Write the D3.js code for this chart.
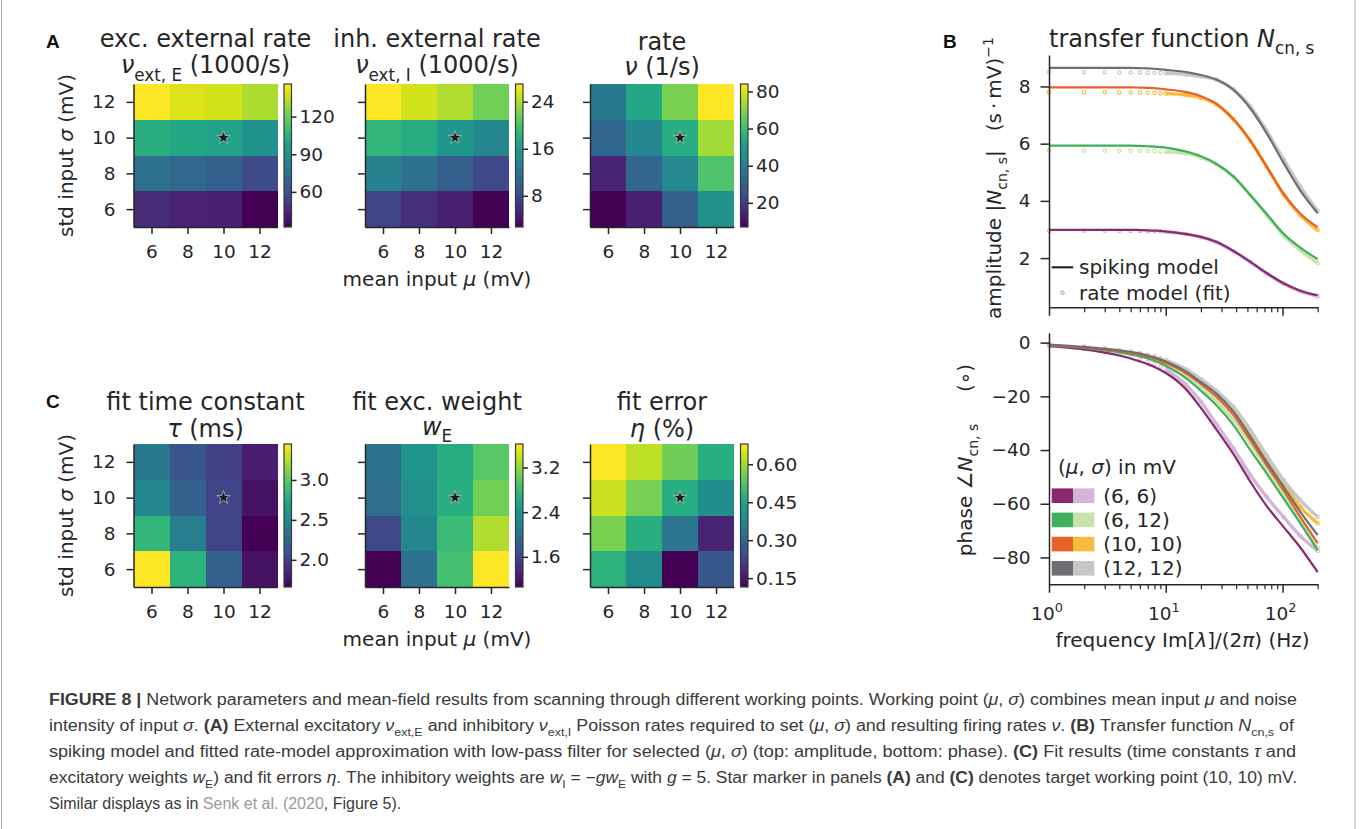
<!DOCTYPE html>
<html>
<head>
<meta charset="utf-8">
<script src="https://cdn.jsdelivr.net/npm/d3@7"></script>
<style>
body { margin: 0; background: #fff; }
svg { display: block; }
text { font-family: "DejaVu Sans", sans-serif; fill: #262626; white-space: pre; }
.letter { font-family: "Liberation Sans", Arial, sans-serif; font-weight: bold; font-size: 19px; fill: #111; }
.cap { font-family: "Liberation Sans", Arial, sans-serif; font-size: 16px; fill: #3a3a3a; }
</style>
</head>
<body>
<svg></svg>
<script>
// working points of the scan (mV)
var muValues = [6, 8, 10, 12];
var sigmaValues = [6, 8, 10, 12];

// heatmap values, rows = sigma 6, 8, 10, 12 ; columns = mu 6, 8, 10, 12
var nuExtE = [[46, 43, 42, 32], [74, 70, 66, 58], [104, 100, 98, 90], [146, 140, 138, 132]];
var nuExtI = [[7.6, 5.9, 4.9, 2.7], [13.4, 11.7, 10.0, 8.0], [18.7, 17.8, 15.6, 13.9], [27.0, 25.3, 24.1, 21.7]];
var rateNu = [[7, 13.9, 30.1, 45.5], [14.7, 32.4, 43.2, 62.4], [32.4, 42.4, 54.7, 73.2], [37.8, 53.2, 68.6, 84]];
var tauFit = [[3.45, 2.81, 2.21, 1.75], [2.84, 2.41, 2.02, 1.66], [2.48, 2.21, 2.02, 1.75], [2.38, 2.14, 2.0, 1.8]];
var wEFit = [[1.06, 2.01, 2.85, 3.62], [1.62, 2.26, 2.8, 3.31], [1.98, 2.34, 2.67, 3.06], [2.03, 2.39, 2.65, 2.95]];
var etaFit = [[0.477, 0.386, 0.115, 0.268], [0.567, 0.471, 0.335, 0.172], [0.635, 0.561, 0.465, 0.392], [0.68, 0.624, 0.556, 0.471]];

// colorbar ticks
var ticksExtE = [60, 90, 120];
var ticksExtI = [8, 16, 24];
var ticksRate = [20, 40, 60, 80];
var ticksTau = [2.0, 2.5, 3.0];
var ticksWE = [1.6, 2.4, 3.2];
var ticksEta = [0.15, 0.30, 0.45, 0.60];

// transfer function, frequencies in Hz
var freqs = [1, 2, 3, 4, 5, 6, 7, 8, 9, 10, 15, 20, 27, 38, 53, 73, 102, 142, 200];
var pointLabels = ["(6, 6)", "(6, 12)", "(10, 10)", "(12, 12)"];
var darkColors = ["#8a2870", "#40ae5c", "#e8602a", "#6e6f72"];
var lightColors = ["#d3b5d8", "#c8e3a9", "#f7bc3c", "#c6c7c9"];

var ampSpike66 = [2.99, 2.99, 2.99, 2.99, 2.99, 2.98, 2.97, 2.96, 2.95, 2.93, 2.84, 2.74, 2.57, 2.25, 1.87, 1.48, 1.12, 0.86, 0.70];
var ampRate66 = [2.96, 2.96, 2.96, 2.95, 2.95, 2.95, 2.94, 2.94, 2.93, 2.92, 2.84, 2.73, 2.56, 2.24, 1.86, 1.46, 1.10, 0.84, 0.67];
var ampSpike612 = [5.93, 5.93, 5.93, 5.93, 5.93, 5.92, 5.91, 5.90, 5.88, 5.86, 5.72, 5.56, 5.30, 4.85, 4.20, 3.55, 2.85, 2.37, 1.96];
var ampRate612 = [5.76, 5.76, 5.76, 5.75, 5.75, 5.75, 5.74, 5.74, 5.73, 5.72, 5.66, 5.52, 5.28, 4.85, 4.20, 3.50, 2.80, 2.28, 1.82];
var ampSpike1010 = [7.97, 7.97, 7.97, 7.97, 7.97, 7.96, 7.95, 7.94, 7.92, 7.90, 7.80, 7.66, 7.40, 6.85, 6.10, 5.20, 4.25, 3.55, 3.08];
var ampRate1010 = [7.80, 7.80, 7.80, 7.79, 7.79, 7.78, 7.78, 7.77, 7.76, 7.75, 7.70, 7.60, 7.38, 6.85, 6.10, 5.20, 4.22, 3.50, 2.97];
var ampSpike1212 = [8.65, 8.65, 8.65, 8.65, 8.65, 8.64, 8.63, 8.62, 8.60, 8.58, 8.50, 8.40, 8.24, 7.88, 7.23, 6.37, 5.33, 4.36, 3.57];
var ampRate1212 = [8.50, 8.50, 8.50, 8.49, 8.49, 8.49, 8.48, 8.48, 8.47, 8.46, 8.42, 8.35, 8.24, 7.90, 7.30, 6.45, 5.45, 4.50, 3.65];

var phSpike66 = [-1.3, -2.5, -3.7, -4.8, -5.9, -7.0, -8.0, -9.1, -10.2, -11.3, -17.5, -24.3, -32.2, -41.5, -51.8, -60.8, -68.6, -76.3, -85.5];
var phRate66 = [-1.2, -2.3, -3.4, -4.4, -5.4, -6.3, -7.2, -8.1, -9.0, -10.0, -15.8, -22.0, -30.2, -39.4, -49.3, -57.4, -64.9, -72.0, -77.5];
var phSpike612 = [-0.9, -2.0, -2.9, -3.6, -4.4, -5.1, -5.9, -6.8, -7.7, -8.7, -13.3, -17.9, -23.2, -30.7, -40.0, -48.7, -58.0, -67.3, -77.3];
var phRate612 = [-0.8, -1.8, -2.6, -3.3, -4.0, -4.7, -5.4, -6.2, -7.0, -7.9, -12.2, -16.3, -21.6, -28.8, -37.5, -46.8, -56.2, -66.0, -76.5];
var phSpike1010 = [-0.8, -1.8, -2.6, -3.2, -3.8, -4.5, -5.2, -5.9, -6.8, -7.6, -11.5, -15.4, -20.0, -27.0, -36.3, -45.6, -55.0, -64.9, -74.7];
var phRate1010 = [-0.7, -1.6, -2.4, -3.0, -3.6, -4.2, -4.9, -5.6, -6.3, -7.1, -10.8, -14.5, -19.0, -25.1, -33.8, -43.1, -52.4, -61.2, -67.3];
var phSpike1212 = [-0.7, -1.6, -2.3, -2.9, -3.5, -4.1, -4.8, -5.5, -6.2, -7.0, -10.8, -14.7, -18.9, -25.7, -35.0, -44.4, -53.7, -63.0, -71.7];
var phRate1212 = [-0.6, -1.4, -2.1, -2.7, -3.3, -3.9, -4.5, -5.1, -5.8, -6.5, -10.0, -13.6, -17.8, -23.9, -32.5, -41.9, -51.2, -58.7, -64.9];

var ampTicks = [2, 4, 6, 8];
var phaseTicks = [0, -20, -40, -60, -80];
var majorFreqTicks = [1, 10, 100];
var minorFreqTicks = [2, 3, 4, 5, 6, 7, 8, 9, 20, 30, 40, 50, 60, 70, 80, 90, 200];

var ink = "#262626";
var svg = d3.select("svg").attr("width", 1360).attr("height", 829);

// writes text pieces with italic / sub / superscript parts
function rich(sel, parts, base) {
  var shift = 0;
  parts.forEach(function(p) {
    var ts = sel.append("tspan").text(p.t);
    var target = p.sub ? base * 0.3 : (p.sup ? -base * 0.42 : 0);
    if (target !== shift) { ts.attr("dy", target - shift); shift = target; }
    if (p.sub || p.sup) ts.style("font-size", (base * 0.7) + "px");
    if (p.it) ts.style("font-style", "italic");
    if (p.b) ts.style("font-weight", "bold");
    if (p.c) ts.style("fill", p.c);
  });
  return sel;
}

function styleAxis(g, size) {
  g.attr("font-family", null).attr("font-size", null);
  g.selectAll("text").style("font-size", size + "px").attr("fill", ink);
  g.selectAll("line").attr("stroke", ink).attr("stroke-width", 1.5);
  g.select(".domain").attr("stroke", ink).attr("stroke-width", 1.5);
}

// vertical viridis gradient for the colorbars
var grad = svg.append("defs").append("linearGradient").attr("id", "viridis")
  .attr("x1", 0).attr("y1", 1).attr("x2", 0).attr("y2", 0);
d3.range(0, 1.0001, 0.05).forEach(function(t) {
  grad.append("stop").attr("offset", t).attr("stop-color", d3.interpolateViridis(t));
});

var heatmaps = [
  {data: nuExtE, ticks: ticksExtE, fmt: "d", x0: 133.5, y0: 84, ylab: true, xlab: false,
   t1: "exc. external rate", t2: [{t: "ν", it: 1}, {t: "ext, E", sub: 1}, {t: " (1000/s)"}], ty: [46.7, 73.3]},
  {data: nuExtI, ticks: ticksExtI, fmt: "d", x0: 365, y0: 84, ylab: false, xlab: true,
   t1: "inh. external rate", t2: [{t: "ν", it: 1}, {t: "ext, I", sub: 1}, {t: " (1000/s)"}], ty: [46.7, 73.3]},
  {data: rateNu, ticks: ticksRate, fmt: "d", x0: 590, y0: 84, ylab: false, xlab: false,
   t1: "rate", t2: [{t: "ν", it: 1}, {t: " (1/s)"}], ty: [49.5, 75]},
  {data: tauFit, ticks: ticksTau, fmt: ".1f", x0: 133.5, y0: 444, ylab: true, xlab: false,
   t1: "fit time constant", t2: [{t: "τ", it: 1}, {t: " (ms)"}], ty: [410, 437]},
  {data: wEFit, ticks: ticksWE, fmt: ".1f", x0: 365, y0: 444, ylab: false, xlab: true,
   t1: "fit exc. weight", t2: [{t: "w", it: 1}, {t: "E", sub: 1}], ty: [410, 435]},
  {data: etaFit, ticks: ticksEta, fmt: ".2f", x0: 590, y0: 444, ylab: false, xlab: false,
   t1: "fit error", t2: [{t: "η", it: 1}, {t: " (%)"}], ty: [410, 437]}
];

heatmaps.forEach(function(cfg) {
  var g = svg.append("g");
  var w = 144, h = 143;
  var x = d3.scaleLinear().domain([5, 13]).range([cfg.x0, cfg.x0 + w]);
  var y = d3.scaleLinear().domain([5, 13]).range([cfg.y0 + h, cfg.y0]);
  var ext = d3.extent(d3.merge(cfg.data));
  var color = d3.scaleSequential(d3.interpolateViridis).domain(ext);

  var cells = [];
  cfg.data.forEach(function(row, i) {
    row.forEach(function(v, j) {
      cells.push({mu: muValues[j], sigma: sigmaValues[i], v: v});
    });
  });

  g.append("g").selectAll("rect").data(cells).enter().append("rect")
    .attr("x", function(d) { return x(d.mu - 1); })
    .attr("y", function(d) { return y(d.sigma + 1); })
    .attr("width", function(d) { return x(d.mu + 1) - x(d.mu - 1); })
    .attr("height", function(d) { return y(d.sigma - 1) - y(d.sigma + 1); })
    .attr("fill", function(d) { return color(d.v); })
    .attr("shape-rendering", "crispEdges");

  // target working point
  g.append("path")
    .attr("d", d3.symbol(d3.symbolStar, 56)())
    .attr("transform", "translate(" + x(10) + "," + y(10) + ")")
    .attr("fill", "#1a1a1a").attr("stroke", "#bbbbbb").attr("stroke-width", 0.8);

  var gx = g.append("g").attr("transform", "translate(0," + (cfg.y0 + h) + ")")
    .call(d3.axisBottom(x).tickValues(muValues).tickSize(7).tickPadding(11).tickSizeOuter(0));
  styleAxis(gx, 18.5);

  var gy = g.append("g").attr("transform", "translate(" + cfg.x0 + ",0)")
    .call(d3.axisLeft(y).tickValues(sigmaValues).tickSize(7).tickPadding(11).tickSizeOuter(0)
      .tickFormat(cfg.ylab ? d3.format("d") : function() { return ""; }));
  styleAxis(gy, 18.5);

  // colorbar
  var cbx = cfg.x0 + 150.5;
  var cy = d3.scaleLinear().domain(ext).range([cfg.y0 + h, cfg.y0]);
  g.append("rect").attr("x", cbx).attr("y", cfg.y0).attr("width", 7.5).attr("height", h)
    .attr("fill", "url(#viridis)").attr("stroke", "#3a3a3a").attr("stroke-width", 1.2);
  var gc = g.append("g").attr("transform", "translate(" + (cbx + 7.5) + ",0)")
    .call(d3.axisRight(cy).tickValues(cfg.ticks).tickFormat(d3.format(cfg.fmt)).tickSize(5).tickPadding(3));
  styleAxis(gc, 18.5);
  gc.select(".domain").remove();

  // titles
  g.append("text").attr("x", cfg.x0 + w / 2).attr("y", cfg.ty[0]).attr("text-anchor", "middle")
    .style("font-size", "24px").text(cfg.t1);
  rich(g.append("text").attr("x", cfg.x0 + w / 2).attr("y", cfg.ty[1]).attr("text-anchor", "middle")
    .style("font-size", "24px"), cfg.t2, 24);

  if (cfg.ylab) {
    rich(g.append("text").attr("transform", "translate(73," + (cfg.y0 + h / 2) + ") rotate(-90)")
      .attr("text-anchor", "middle").style("font-size", "20px"),
      [{t: "std input "}, {t: "σ", it: 1}, {t: " (mV)"}], 20);
  }
  if (cfg.xlab) {
    rich(g.append("text").attr("x", cfg.x0 + w / 2).attr("y", cfg.y0 + h + 59).attr("text-anchor", "middle")
      .style("font-size", "20px"),
      [{t: "mean input "}, {t: "μ", it: 1}, {t: " (mV)"}], 20);
  }
});

// panel letters
svg.append("text").attr("class", "letter").attr("x", 46).attr("y", 48).text("A");
svg.append("text").attr("class", "letter").attr("x", 943).attr("y", 48).text("B");
svg.append("text").attr("class", "letter").attr("x", 46).attr("y", 408).text("C");

// ---- panel B ----
var fx = d3.scaleLog().domain([1, 200]).range([1049, 1317.7]);
var ampY = d3.scaleLinear().domain([0.28, 9.1]).range([307.3, 55]);
var phY = d3.scaleLinear().domain([-90, 3.7]).range([584.3, 332.7]);

var ampSpike = [ampSpike66, ampSpike612, ampSpike1010, ampSpike1212];
var ampRate = [ampRate66, ampRate612, ampRate1010, ampRate1212];
var phSpike = [phSpike66, phSpike612, phSpike1010, phSpike1212];
var phRate = [phRate66, phRate612, phRate1010, phRate1212];

function freqAxis(yPos, labels) {
  var g = svg.append("g").attr("transform", "translate(0," + yPos + ")");
  var major = g.append("g").call(d3.axisBottom(fx).tickValues(majorFreqTicks).tickSize(8.5).tickSizeOuter(0)
    .tickFormat(function() { return ""; }));
  styleAxis(major, 18.5);
  var minor = g.append("g").call(d3.axisBottom(fx).tickValues(minorFreqTicks).tickSize(5).tickSizeOuter(0)
    .tickFormat(function() { return ""; }));
  styleAxis(minor, 18.5);
  minor.select(".domain").remove();
  minor.selectAll("line").attr("stroke-width", 1.2);
  if (labels) {
    majorFreqTicks.forEach(function(f) {
      rich(g.append("text").attr("x", fx(f) - 2).attr("y", 35.5).attr("text-anchor", "middle")
        .style("font-size", "18.5px"), [{t: "10"}, {t: String(Math.round(Math.log10(f))), sup: 1}], 18.5);
    });
  }
}

function valueAxis(scale, ticks, fmt) {
  var g = svg.append("g").attr("transform", "translate(1049,0)")
    .call(d3.axisLeft(scale).tickValues(ticks).tickFormat(fmt).tickSize(8.5).tickPadding(10).tickSizeOuter(0));
  styleAxis(g, 18.5);
}

function drawCurves(spike, rate, yScale) {
  var gl = svg.append("g");
  var line = d3.line().curve(d3.curveMonotoneX)
    .x(function(d) { return fx(d.f); }).y(function(d) { return yScale(d.v); });
  rate.forEach(function(vals, k) {
    var pts = freqs.map(function(f, i) { return {f: f, v: vals[i]}; });
    gl.append("path").datum(pts.filter(function(d) { return d.f >= 10; }))
      .attr("d", line).attr("fill", "none").attr("stroke", lightColors[k]).attr("stroke-width", 3.4);
    gl.append("g").selectAll("circle").data(pts).enter().append("circle")
      .attr("cx", function(d) { return fx(d.f); }).attr("cy", function(d) { return yScale(d.v); })
      .attr("r", 1.7).attr("fill", "none").attr("stroke", lightColors[k]).attr("stroke-width", 1.1);
  });
  spike.forEach(function(vals, k) {
    var pts = freqs.map(function(f, i) { return {f: f, v: vals[i]}; });
    gl.append("path").datum(pts).attr("d", line).attr("fill", "none")
      .attr("stroke", darkColors[k]).attr("stroke-width", 2.2);
  });
}

// amplitude
drawCurves(ampSpike, ampRate, ampY);
valueAxis(ampY, ampTicks, d3.format("d"));
freqAxis(307.3, false);

// phase
drawCurves(phSpike, phRate, phY);
valueAxis(phY, phaseTicks, function(d) { return d3.format("d")(d).replace("-", "\u2212"); });
freqAxis(584.3, true);

rich(svg.append("text").attr("x", 1181.7).attr("y", 46.7).attr("text-anchor", "middle").style("font-size", "24px"),
  [{t: "transfer function "}, {t: "N", it: 1}, {t: "cn, s", sub: 1}], 24);

rich(svg.append("text").attr("transform", "translate(1001,178) rotate(-90)").attr("text-anchor", "middle")
  .style("font-size", "20px"),
  [{t: "amplitude |"}, {t: "N", it: 1}, {t: "cn, s", sub: 1}, {t: "|   (s\u2009·\u2009mV)"}, {t: "\u22121", sup: 1}], 20);

rich(svg.append("text").attr("transform", "translate(972,460) rotate(-90)").attr("text-anchor", "middle")
  .style("font-size", "20px"),
  [{t: "phase \u2220"}, {t: "N", it: 1}, {t: "cn, s", sub: 1}, {t: "     (\u2218)"}], 20);

rich(svg.append("text").attr("x", 1182.5).attr("y", 647).attr("text-anchor", "middle").style("font-size", "20px"),
  [{t: "frequency Im["}, {t: "λ", it: 1}, {t: "]/(2"}, {t: "π", it: 1}, {t: ") (Hz)"}], 20);

// amplitude legend
svg.append("line").attr("x1", 1051.7).attr("x2", 1073.3).attr("y1", 267.3).attr("y2", 267.3)
  .attr("stroke", ink).attr("stroke-width", 2.2);
svg.append("text").attr("x", 1079).attr("y", 274).style("font-size", "20px").text("spiking model");
svg.append("circle").attr("cx", 1062.5).attr("cy", 292.7).attr("r", 1.7)
  .attr("fill", "none").attr("stroke", "#9a9a9a").attr("stroke-width", 1);
svg.append("text").attr("x", 1079).attr("y", 300).style("font-size", "20px").text("rate model (fit)");

// phase legend
rich(svg.append("text").attr("x", 1058).attr("y", 474).style("font-size", "20px"),
  [{t: "("}, {t: "μ", it: 1}, {t: ", "}, {t: "σ", it: 1}, {t: ") in mV"}], 20);
var leg = svg.append("g").selectAll("g").data(pointLabels).enter().append("g")
  .attr("transform", function(d, i) { return "translate(0," + (495.7 + i * 24.2) + ")"; });
leg.append("rect").attr("x", 1051.7).attr("y", -7.3).attr("width", 21.3).attr("height", 14.6)
  .attr("fill", function(d, i) { return darkColors[i]; });
leg.append("rect").attr("x", 1073).attr("y", -7.3).attr("width", 21.3).attr("height", 14.6)
  .attr("fill", function(d, i) { return lightColors[i]; });
leg.append("text").attr("x", 1103.3).attr("y", 7).style("font-size", "20px").text(function(d) { return d; });

// ---- caption ----
svg.append("line").attr("x1", 1.5).attr("x2", 1.5).attr("y1", 0).attr("y2", 829).attr("stroke", "#aaa");
svg.append("line").attr("x1", 1355).attr("x2", 1355).attr("y1", 0).attr("y2", 829).attr("stroke", "#aaa");

var capLines = [
  {w: 1248, parts: [{t: "FIGURE 8 | ", b: 1}, {t: "Network parameters and mean-field results from scanning through different working points. Working point ("}, {t: "μ", it: 1}, {t: ", "}, {t: "σ", it: 1}, {t: ") combines mean input "}, {t: "μ", it: 1}, {t: " and noise"}]},
  {w: 1245, parts: [{t: "intensity of input "}, {t: "σ", it: 1}, {t: ". "}, {t: "(A)", b: 1}, {t: " External excitatory "}, {t: "ν", it: 1}, {t: "ext,E", sub: 1}, {t: " and inhibitory "}, {t: "ν", it: 1}, {t: "ext,I", sub: 1}, {t: " Poisson rates required to set ("}, {t: "μ", it: 1}, {t: ", "}, {t: "σ", it: 1}, {t: ") and resulting firing rates "}, {t: "ν", it: 1}, {t: ". "}, {t: "(B)", b: 1}, {t: " Transfer function "}, {t: "N", it: 1}, {t: "cn,s", sub: 1}, {t: " of"}]},
  {w: 1247, parts: [{t: "spiking model and fitted rate-model approximation with low-pass filter for selected ("}, {t: "μ", it: 1}, {t: ", "}, {t: "σ", it: 1}, {t: ") (top: amplitude, bottom: phase). "}, {t: "(C)", b: 1}, {t: " Fit results (time constants "}, {t: "τ", it: 1}, {t: " and"}]},
  {w: 1248, parts: [{t: "excitatory weights "}, {t: "w", it: 1}, {t: "E", sub: 1}, {t: ") and fit errors "}, {t: "η", it: 1}, {t: ". The inhibitory weights are "}, {t: "w", it: 1}, {t: "I", sub: 1}, {t: " = −"}, {t: "gw", it: 1}, {t: "E", sub: 1}, {t: " with "}, {t: "g", it: 1}, {t: " = 5. Star marker in panels "}, {t: "(A)", b: 1}, {t: " and "}, {t: "(C)", b: 1}, {t: " denotes target working point (10, 10) mV."}]},
  {w: null, parts: [{t: "Similar displays as in "}, {t: "Senk et al. (2020", c: "#9a9a9a"}, {t: ", Figure 5)."}]}
];
// full lines are fitted to the measured width; the short last line uses the same squeeze
var squeeze = [];
capLines.forEach(function(l, i) {
  var t = svg.append("text").attr("class", "cap").attr("x", 49).attr("y", 704.5 + i * 26.2);
  rich(t, l.parts, 16);
  var natural = t.node().getComputedTextLength();
  if (l.w) {
    squeeze.push(l.w / natural);
    t.attr("textLength", l.w).attr("lengthAdjust", "spacingAndGlyphs");
  } else {
    var s = d3.mean(squeeze);
    if (s < 1) t.attr("textLength", natural * s).attr("lengthAdjust", "spacingAndGlyphs");
  }
});
</script>
</body>
</html>
